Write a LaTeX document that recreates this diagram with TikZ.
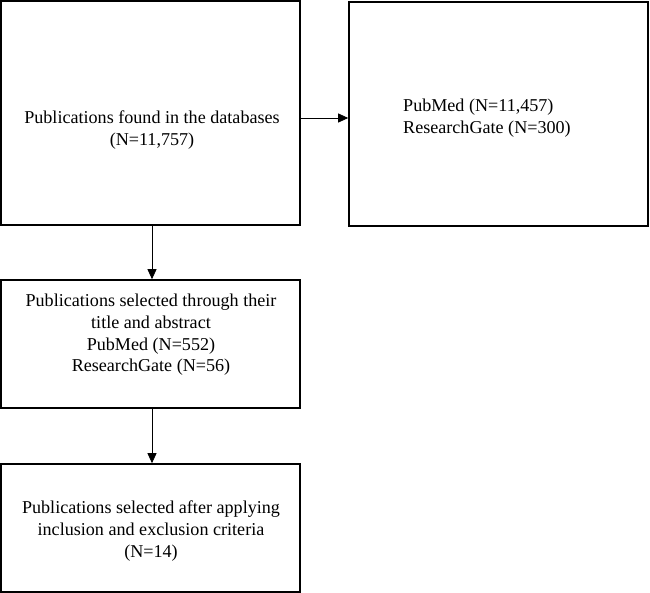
\documentclass[tikz,border=0pt]{standalone}
\usepackage{fontspec}
\setmainfont{Liberation Serif}
\usetikzlibrary{arrows.meta}

\begin{document}
\begin{tikzpicture}[x=1pt, y=-1pt]
	\tikzstyle{box}  = [rectangle, draw=black, line width=1.6pt, fill=white, minimum width=299pt, inner sep=0pt]
	\tikzstyle{txt}  = [font=\fontsize{18.1}{21.7}\selectfont, inner sep=0pt]
	\tikzstyle{flow} = [line width=0.8pt, -{Triangle[length=10pt, width=9pt]}]

	\useasboundingbox (0,0) rectangle (650,593);

	% boxes
	\node[box, minimum height=224pt] (found)    at (150.5,113) {};
	\node[box, minimum height=224pt] (sources)  at (498.5,114) {};
	\node[box, minimum height=128pt] (screened) at (150.5,344) {};
	\node[box, minimum height=128pt] (included) at (150.5,528) {};

	% texts
	\node[txt, align=center] (foundtxt) at (152,130) {Publications found in the databases\\(N=11,757)};
	\node[txt, align=left, anchor=west] (sourcestxt) at (403,118) {PubMed (N=11,457)\\ResearchGate (N=300)};
	\node[txt, align=center] (screenedtxt) at (151,335) {Publications selected through their\\title and abstract\\PubMed (N=552)\\ResearchGate (N=56)};
	\node[txt, align=center] (includedtxt) at (151,531) {Publications selected after applying\\inclusion and exclusion criteria\\(N=14)};

	% arrows
	\draw[flow] ([yshift=-5pt]found.east) -- ([yshift=-4pt]sources.west);
	\draw[flow] ([xshift=1.5pt]found.south) -- ([xshift=1.5pt]screened.north);
	\draw[flow] ([xshift=1.5pt]screened.south) -- ([xshift=1.5pt]included.north);
\end{tikzpicture}
\end{document}
